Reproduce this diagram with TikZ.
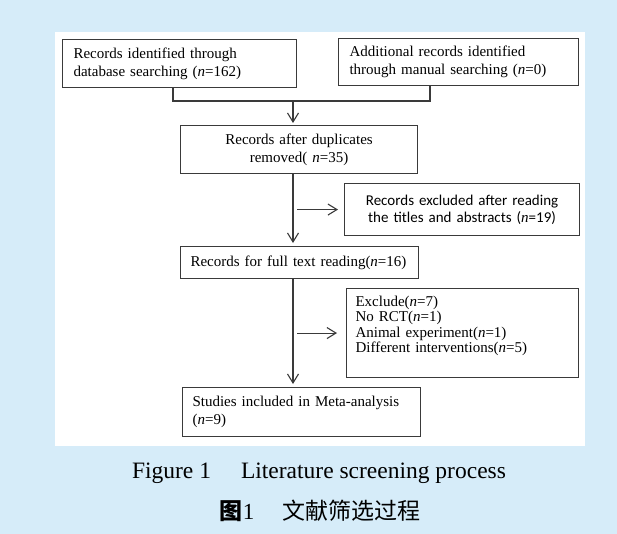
\documentclass[tikz,border=0pt]{standalone}
\usepackage{fontspec}
\setmainfont{Liberation Serif}
\newfontfamily\calibrilike{Carlito}
\newfontfamily\cjk{Noto Sans CJK SC}
\usetikzlibrary{arrows.meta, positioning}
\definecolor{pagebg}{HTML}{D6ECF9}
\definecolor{inkgray}{HTML}{3A3A3A}
\newcommand{\nvar}{{\rmfamily\itshape n}}

\begin{document}
\begin{tikzpicture}[x=1pt, y=-1pt,
    box/.style={rectangle, draw=inkgray, line width=1.1pt, anchor=north west, inner ysep=2pt, font=\fontsize{15}{18}\selectfont},
    leftbox/.style={box, align=left},
    midbox/.style={box, align=center},
    link/.style={draw=inkgray, line width=1.1pt},
    arrow/.style={link, -{Straight Barb[length=9pt, width=11pt, line width=1.1pt]}}
]
% background and white panel
\fill[pagebg] (0,0) rectangle (617,534);
\fill[white] (55,32) rectangle (585,446);

% boxes
\node[leftbox, minimum width=234pt, minimum height=48pt, inner xsep=11pt, text width=212pt] (db) at (62,39)
    {Records identified through\\database searching (\nvar=162)};
\node[leftbox, minimum width=240pt, minimum height=47pt, inner xsep=11pt, text width=218pt] (manual) at (338,38)
    {Additional records identified\\through manual searching (\nvar=0)};
\node[midbox, minimum width=237pt, minimum height=48pt, text width=215pt] (dup) at (180,125)
    {Records after duplicates\\removed( \nvar=35)};
\node[midbox, minimum width=235pt, minimum height=52pt, text width=215pt, font=\calibrilike\fontsize{15}{17}\selectfont] (exclabs) at (344,183)
    {Records excluded after reading\\the titles and abstracts (\nvar=19)};
\node[leftbox, minimum width=238pt, minimum height=32pt, inner xsep=10pt, text width=218pt] (full) at (180,246)
    {Records for full text reading(\nvar=16)};
\node[leftbox, minimum width=232pt, minimum height=89pt, inner xsep=9pt, text width=214pt, text depth=64pt, font=\fontsize{15}{15.5}\selectfont] (exclfull) at (346,288)
    {Exclude(\nvar=7)\\No RCT(\nvar=1)\\Animal experiment(\nvar=1)\\Different interventions(\nvar=5)};
\node[leftbox, minimum width=238pt, minimum height=49pt, inner xsep=10pt, text width=218pt] (incl) at (182,387)
    {Studies included in Meta-analysis\\(\nvar=9)};

% connectors
\coordinate (jl) at (173,101);
\coordinate (jr) at (430,101);
\coordinate (jm) at (293,101);
\draw[link] (db.south -| jl) -- (jl) -- (jr) -- (manual.south -| jr);
\draw[arrow, shorten >=2pt] (jm) -- (dup.north -| jm);
\draw[arrow, shorten >=3pt] (dup.south -| jm) -- (full.north -| jm);
\draw[arrow, shorten >=6pt] ([xshift=4pt]jm |- exclabs.west) -- (exclabs.west);
\draw[arrow, shorten >=3pt] (full.south -| jm) -- (incl.north -| jm);
\draw[arrow, shorten >=9pt] ([xshift=4pt]jm |- exclfull.west) -- (exclfull.west);

% caption
\node[font=\fontsize{23.5}{27}\selectfont] (figen) at (319,473) {Figure 1\hspace{30pt}Literature screening process};
\node[font=\fontsize{23}{27}\selectfont] (figcn) at (320,511) {{\cjk\bfseries 图}1\hspace{28pt}{\cjk 文献筛选过程}};
\end{tikzpicture}
\end{document}
